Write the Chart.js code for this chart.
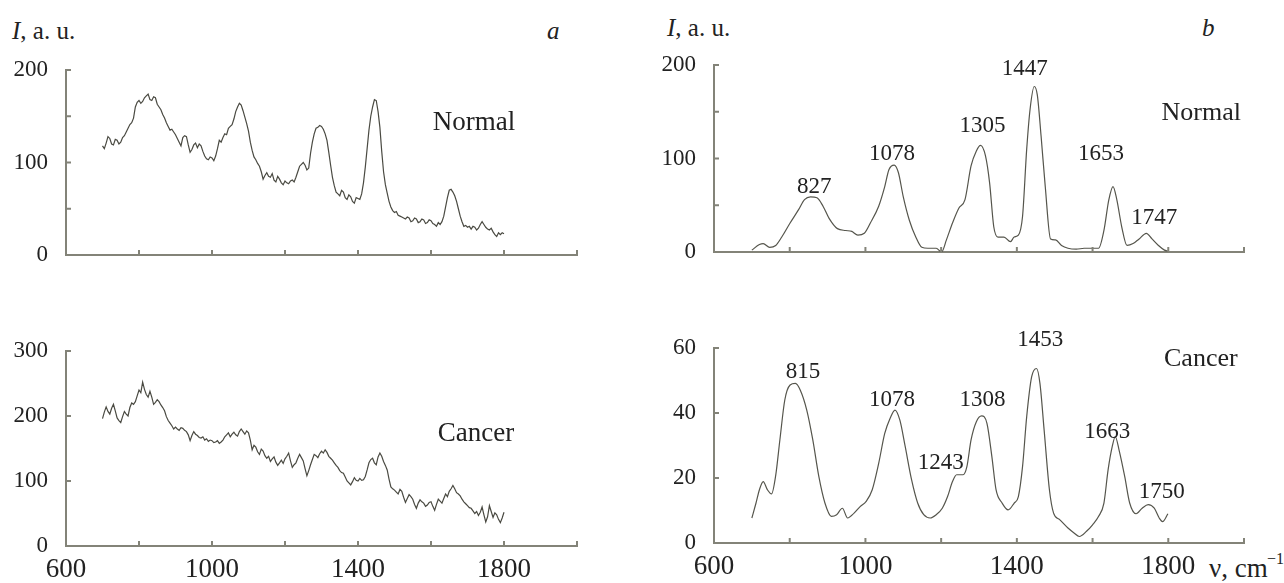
<!DOCTYPE html>
<html>
<head>
<meta charset="utf-8">
<script src="https://cdn.jsdelivr.net/npm/chart.js@4.4.0/dist/chart.umd.min.js"></script>
<style>
    body { margin: 0; background: #fff; width: 1284px; height: 583px; position: relative; overflow: hidden;
           font-family: 'Liberation Serif', 'DejaVu Serif', serif; color: #222; }
    .box { position: absolute; }
    .lbl { position: absolute; font-size: 25px; line-height: 28px; white-space: nowrap; }
</style>
</head>
<body>
<div class="lbl" style="left:12px;top:17px"><i>I</i>, a. u.</div>
<div class="lbl" style="left:547px;top:17px"><i>a</i></div>
<div class="lbl" style="left:667px;top:14px"><i>I</i>, a. u.</div>
<div class="lbl" style="left:1202px;top:14px"><i>b</i></div>
<div class="lbl" style="left:1209px;top:555px;font-size:27px;line-height:27px">ν, cm</div>
<div class="lbl" style="left:1267px;top:551px;font-size:16px;line-height:16px">−1</div>

<div class="box" style="left:0;top:40px;width:640px;height:240px"><canvas id="aTop"></canvas></div>
<div class="box" style="left:0;top:290px;width:640px;height:293px"><canvas id="aBottom"></canvas></div>
<div class="box" style="left:640px;top:40px;width:644px;height:240px"><canvas id="bTop"></canvas></div>
<div class="box" style="left:640px;top:290px;width:644px;height:293px"><canvas id="bBottom"></canvas></div>

<script>
// raw spectra (a), wavenumber in cm-1
var aX = [700,705,710,715,720,725,730,735,740,745,750,755,760,765,770,775,780,785,790,795,
    800,805,810,815,820,825,830,835,840,845,850,855,860,865,870,875,880,885,890,895,
    900,905,910,915,920,925,930,935,940,945,950,955,960,965,970,975,980,985,990,995,
    1000,1005,1010,1015,1020,1025,1030,1035,1040,1045,1050,1055,1060,1065,1070,1075,1080,1085,1090,1095,
    1100,1105,1110,1115,1120,1125,1130,1135,1140,1145,1150,1155,1160,1165,1170,1175,1180,1185,1190,1195,
    1200,1205,1210,1215,1220,1225,1230,1235,1240,1245,1250,1255,1260,1265,1270,1275,1280,1285,1290,1295,
    1300,1305,1310,1315,1320,1325,1330,1335,1340,1345,1350,1355,1360,1365,1370,1375,1380,1385,1390,1395,
    1400,1405,1410,1415,1420,1425,1430,1435,1440,1445,1450,1455,1460,1465,1470,1475,1480,1485,1490,1495,
    1500,1505,1510,1515,1520,1525,1530,1535,1540,1545,1550,1555,1560,1565,1570,1575,1580,1585,1590,1595,
    1600,1605,1610,1615,1620,1625,1630,1635,1640,1645,1650,1655,1660,1665,1670,1675,1680,1685,1690,1695,
    1700,1705,1710,1715,1720,1725,1730,1735,1740,1745,1750,1755,1760,1765,1770,1775,1780,1785,1790,1795,
    1800];
var aNormal = [118,115,121,128,126,120,119,125,124,120,122,127,129,133,137,141,143,148,160,165,
    167,164,166,170,172,174,168,167,171,170,163,160,157,152,148,143,139,135,136,133,
    130,126,122,118,127,129,128,119,111,114,119,121,116,120,118,112,107,104,103,106,
    105,102,107,115,124,122,127,131,130,137,139,141,147,155,160,164,162,156,149,142,
    134,122,113,106,103,99,96,90,82,86,89,85,84,88,81,79,85,82,78,76,
    80,78,77,80,81,79,84,90,96,98,100,97,92,94,110,122,131,137,138,140,
    139,136,131,124,111,97,84,75,68,66,64,70,68,62,60,65,63,58,56,62,
    61,60,66,78,95,115,135,150,160,168,167,155,138,112,90,76,67,58,52,48,
    46,47,43,42,41,40,39,41,40,36,37,40,39,35,36,39,38,34,35,38,
    37,34,33,31,35,33,36,42,52,62,70,71,68,64,58,50,42,36,31,32,
    30,31,28,31,30,27,29,33,36,33,30,28,27,29,25,22,20,24,22,24,
    23];
var aCancer = [196,206,214,207,203,212,218,208,197,193,190,199,207,203,200,213,220,218,222,231,
    240,236,252,241,233,229,238,229,218,221,225,222,217,213,208,199,193,189,185,180,
    183,180,178,182,181,178,176,171,162,170,176,172,170,167,166,168,163,165,161,163,
    162,159,160,162,158,160,163,168,171,174,168,172,175,171,169,176,180,176,172,177,
    174,163,148,155,152,145,141,149,146,139,135,138,130,134,137,129,124,128,132,127,
    134,138,143,131,121,125,128,135,141,136,131,119,108,116,125,133,141,139,136,142,
    146,143,148,144,138,135,132,128,124,121,116,113,112,106,100,97,94,99,105,101,
    100,104,101,102,107,117,128,133,135,128,125,137,143,138,130,124,117,103,91,88,
    86,83,80,87,84,75,67,73,79,76,72,64,58,66,71,68,66,61,63,67,
    68,61,55,64,72,69,66,73,80,76,84,88,93,88,82,80,77,72,68,65,
    62,59,58,54,50,53,47,52,60,48,37,45,62,53,44,51,48,41,36,43,
    52];

// processed spectra (b)
var bNormalX = [700,720,730,747,763,779,801,823,839,855,872,888,904,926,948,964,980,997,1013,1035,
    1051,1062,1076,1087,1100,1116,1133,1149,1165,1187,1201,1214,1230,1247,1263,1279,1293,1304,1317,1328,
    1339,1350,1366,1383,1393,1404,1415,1426,1435,1446,1454,1464,1475,1489,1502,1518,1535,1557,1578,1600,
    1616,1630,1643,1654,1664,1677,1691,1707,1723,1742,1757,1774,1790,1799];
var bNormal = [2,8,9,5,7,16,31,45,56,59,58,49,36,25,23,22,18,20,31,49,
    70,88,93,85,59,34,16,5,4,4,0,13,31,47,56,92,108,114,103,74,
    27,16,16,11,16,18,38,110,153,177,168,124,70,14,13,7,4,3,4,4,
    4,23,56,70,56,27,7,9,14,20,14,7,2,1];
var bCancerX = [700,711,720,730,741,752,763,774,787,801,815,828,845,861,877,893,910,924,939,953,
    970,986,1002,1018,1035,1051,1065,1078,1091,1105,1122,1138,1154,1171,1187,1203,1217,1230,1241,1258,
    1268,1279,1293,1307,1321,1334,1345,1361,1377,1393,1404,1415,1426,1439,1452,1461,1472,1486,1497,1513,
    1535,1551,1565,1584,1600,1616,1630,1641,1652,1660,1670,1685,1698,1715,1731,1747,1763,1776,1785,1799];
var bCancer = [7.7,12.3,16.4,18.9,16.4,15.1,20.8,31.7,44,48.6,49.1,47,40.9,31.7,20.4,12.3,8.2,8.7,10.7,7.7,
    9.2,11.2,12.8,16.4,24.5,33.7,38.3,40.9,37.8,29.7,19.4,12.3,8.7,7.7,8.7,10.7,14.3,18.9,21,21,
    23.5,31.7,37.3,39.1,36.8,26.6,16.4,12.3,10.2,12.3,14.3,23.5,38.9,51.1,53.7,49.1,34.8,16.4,9.2,7.2,
    4.6,3.1,2,3.6,5.6,8.2,12.3,22.5,29.7,32.7,28.6,20.4,12.3,9,10.7,11.8,10.7,7.7,6.6,9];

var xLabels = [600, 1000, 1400, 1800];
var bNormalPeaks = ['827', '1078', '1305', '1447', '1653', '1747'];
var bCancerPeaks = ['815', '1078', '1243', '1308', '1453', '1663', '1750'];

var SERIF = "'Liberation Serif', 'DejaVu Serif', serif";
var AXIS = '#838378';
var INK = '#222';

// ticks pointing into the plot
var innerTicks = {
    id: 'innerTicks',
    afterDraw: function (chart) {
        var ctx = chart.ctx, a = chart.chartArea;
        ctx.save();
        ctx.strokeStyle = AXIS;
        ctx.lineWidth = 2;
        chart.scales.x.ticks.forEach(function (t) {
            var px = chart.scales.x.getPixelForValue(t.value);
            ctx.beginPath(); ctx.moveTo(px, a.bottom); ctx.lineTo(px, a.bottom - 5); ctx.stroke();
        });
        chart.scales.y.ticks.forEach(function (t) {
            var py = chart.scales.y.getPixelForValue(t.value);
            ctx.beginPath(); ctx.moveTo(a.left, py); ctx.lineTo(a.left + 5, py); ctx.stroke();
        });
        ctx.restore();
    }
};

// text placed at data coordinates
function notesPlugin(items) {
    return {
        id: 'notes',
        afterDatasetsDraw: function (chart) {
            var ctx = chart.ctx;
            ctx.save();
            ctx.fillStyle = INK;
            ctx.textAlign = 'center';
            ctx.textBaseline = 'middle';
            items.forEach(function (n) {
                ctx.font = n.size + 'px ' + SERIF;
                ctx.fillText(n.text, chart.scales.x.getPixelForValue(n.x), chart.scales.y.getPixelForValue(n.y));
            });
            ctx.restore();
        }
    };
}

function makeChart(id, xs, ys, cfg) {
    var pts = xs.map(function (x, i) { return { x: x, y: ys[i] }; });
    return new Chart(document.getElementById(id), {
        type: 'line',
        data: {
            datasets: [{
                data: pts,
                borderColor: cfg.color,
                borderWidth: cfg.width,
                pointRadius: 0,
                fill: false,
                cubicInterpolationMode: cfg.smooth ? 'monotone' : 'default',
                tension: 0
            }]
        },
        options: {
            responsive: true,
            maintainAspectRatio: false,
            animation: false,
            layout: { padding: { top: cfg.top, right: cfg.right, left: 0, bottom: 0 } },
            plugins: { legend: { display: false }, tooltip: { enabled: false } },
            scales: {
                x: {
                    type: 'linear', min: 600, max: 2000,
                    grid: { display: false },
                    border: { display: true, color: AXIS, width: 2 },
                    ticks: {
                        stepSize: 200, autoSkip: false, maxRotation: 0, padding: 0,
                        color: INK, font: { family: SERIF, size: 27 },
                        callback: function (v) { return cfg.xLabels && xLabels.indexOf(v) >= 0 ? String(v) : ''; }
                    },
                    afterFit: function (s) { s.height = cfg.xh; }
                },
                y: {
                    min: 0, max: cfg.ymax,
                    grid: { display: false },
                    border: { display: true, color: AXIS, width: 2 },
                    ticks: {
                        stepSize: cfg.ystep, padding: 10,
                        color: INK, font: { family: SERIF, size: 23 },
                        callback: function (v) { return v % cfg.ylab === 0 ? String(v) : ''; }
                    },
                    afterFit: function (s) { s.width = cfg.yw; }
                }
            }
        },
        plugins: [innerTicks, notesPlugin(cfg.notes)]
    });
}

makeChart('aTop', aX, aNormal, {
    color: '#4a4a42', width: 1.2, smooth: false,
    top: 30, right: 63, xh: 25, yw: 66, ymax: 200, ystep: 50, ylab: 100, xLabels: false,
    notes: [{ text: 'Normal', x: 1718, y: 143, size: 27 }]
});

makeChart('aBottom', aX, aCancer, {
    color: '#4a4a42', width: 1.2, smooth: false,
    top: 61, right: 63, xh: 37, yw: 66, ymax: 300, ystep: 100, ylab: 100, xLabels: true,
    notes: [{ text: 'Cancer', x: 1723, y: 173, size: 27 }]
});

var bNormalPos = [[865, 70], [1070, 104.5], [1309, 135], [1421, 196], [1622, 104.5], [1763, 36]];
makeChart('bTop', bNormalX, bNormal, {
    color: '#55554c', width: 1.2, smooth: true,
    top: 25, right: 40, xh: 28, yw: 74, ymax: 200, ystep: 50, ylab: 100, xLabels: false,
    notes: bNormalPeaks.map(function (t, i) {
        return { text: t, x: bNormalPos[i][0], y: bNormalPos[i][1], size: 23 };
    }).concat([{ text: 'Normal', x: 1887, y: 148, size: 26 }])
});

var bCancerPos = [[835, 52.7], [1070, 44], [1199, 24.5], [1309, 44], [1462, 62.4], [1639, 34.3], [1783, 15.8]];
makeChart('bBottom', bCancerX, bCancer, {
    color: '#55554c', width: 1.2, smooth: true,
    top: 58, right: 40, xh: 40, yw: 74, ymax: 60, ystep: 20, ylab: 20, xLabels: true,
    notes: bCancerPeaks.map(function (t, i) {
        return { text: t, x: bCancerPos[i][0], y: bCancerPos[i][1], size: 23 };
    }).concat([{ text: 'Cancer', x: 1886, y: 56.7, size: 26 }])
});
</script>
</body>
</html>
